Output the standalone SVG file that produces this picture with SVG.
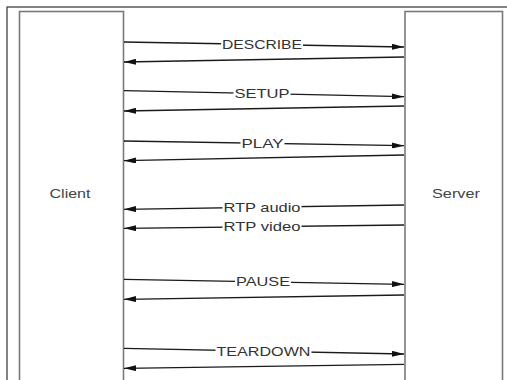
<svg xmlns="http://www.w3.org/2000/svg" width="507" height="380" viewBox="0 0 507 380">
<style>
.frame{fill:none;stroke:#333;stroke-width:1.2}
.box{fill:#fff;stroke:#7a7a7a;stroke-width:1.6}
.msg{stroke:#1a1a1a;stroke-width:1.3;fill:none;marker-end:url(#ah)}
.bg{fill:#fff}
.lbl{font-family:"Liberation Sans",Arial,sans-serif;font-size:13px;fill:#333;text-anchor:middle}
.name{font-family:"Liberation Sans",Arial,sans-serif;font-size:13px;fill:#444;text-anchor:middle}
</style>
<defs>
<marker id="ah" viewBox="0 0 12 6" refX="12" refY="3" markerWidth="12" markerHeight="6" markerUnits="userSpaceOnUse" orient="auto">
<path d="M0,0 L12,3 L0,6 Z" fill="#111"/>
</marker>
</defs>
<rect width="507" height="380" fill="#fff"/>
<rect class="frame" x="7" y="7" width="520" height="400"/>
<g id="client">
<rect class="box" x="19.5" y="11.5" width="104" height="400"/>
<text class="name" x="70" y="198" textLength="41" lengthAdjust="spacingAndGlyphs">Client</text>
</g>
<g id="server">
<rect class="box" x="405" y="11.5" width="97.5" height="400"/>
<text class="name" x="456" y="198" textLength="48" lengthAdjust="spacingAndGlyphs">Server</text>
</g>
<g id="connectors">
<line class="msg" x1="124" y1="42" x2="404" y2="47"/>
<line class="msg" x1="404" y1="57" x2="124" y2="62"/>
<line class="msg" x1="124" y1="90.7" x2="404" y2="96.7"/>
<line class="msg" x1="404" y1="106" x2="124" y2="111"/>
<line class="msg" x1="124" y1="141" x2="404" y2="145.7"/>
<line class="msg" x1="404" y1="155" x2="124" y2="160.7"/>
<line class="msg" x1="404" y1="205" x2="124" y2="209.3"/>
<line class="msg" x1="404" y1="225" x2="124" y2="228.3"/>
<line class="msg" x1="124" y1="279.3" x2="404" y2="284.3"/>
<line class="msg" x1="404" y1="295" x2="124" y2="299.3"/>
<line class="msg" x1="124" y1="348.3" x2="404" y2="354"/>
<line class="msg" x1="404" y1="364.3" x2="124" y2="368.3"/>
<rect class="bg" x="221" y="38" width="82" height="13"/>
<rect class="bg" x="233.5" y="87" width="57" height="13"/>
<rect class="bg" x="240.5" y="136.5" width="44" height="13"/>
<rect class="bg" x="222.5" y="200.5" width="79" height="13"/>
<rect class="bg" x="222.5" y="220" width="79" height="13"/>
<rect class="bg" x="235" y="275" width="56" height="13"/>
<rect class="bg" x="215.5" y="344.5" width="96" height="13"/>
<text class="lbl" x="262" y="49" textLength="80" lengthAdjust="spacingAndGlyphs">DESCRIBE</text>
<text class="lbl" x="262" y="98" textLength="55" lengthAdjust="spacingAndGlyphs">SETUP</text>
<text class="lbl" x="262.5" y="147.5" textLength="42" lengthAdjust="spacingAndGlyphs">PLAY</text>
<text class="lbl" x="262" y="211.5" textLength="77" lengthAdjust="spacingAndGlyphs">RTP audio</text>
<text class="lbl" x="262" y="231" textLength="77" lengthAdjust="spacingAndGlyphs">RTP video</text>
<text class="lbl" x="263" y="286" textLength="54" lengthAdjust="spacingAndGlyphs">PAUSE</text>
<text class="lbl" x="263.5" y="355.5" textLength="94" lengthAdjust="spacingAndGlyphs">TEARDOWN</text>
</g>
</svg>
